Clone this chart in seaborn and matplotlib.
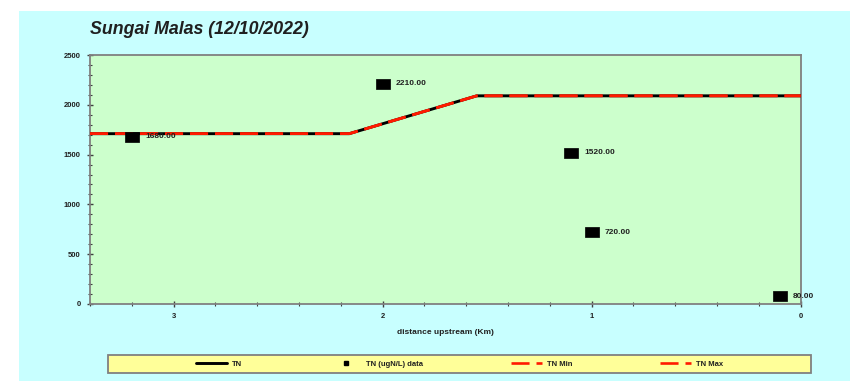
import matplotlib
matplotlib.use("Agg")
import matplotlib.pyplot as plt
from matplotlib.patches import Rectangle
from matplotlib.lines import Line2D
from matplotlib.path import Path
from matplotlib.ticker import MultipleLocator
import pandas as pd
import seaborn as sns

# Measured TN samples along the river
sample_distance_km = [3.2, 2.0, 1.1, 1.0, 0.1]
tn_values = [1680, 2210, 1520, 720, 80]

# Modelled TN profile with min / max envelopes
profile_distance_km = [3.4, 2.16, 1.55, 0.0]
tn_profile = [1710, 1710, 2090, 2090]
tn_min = [1710, 1710, 2090, 2090]
tn_max = [1710, 1710, 2090, 2090]

y_ticks = [0, 500, 1000, 1500, 2000, 2500]
x_ticks = [3, 2, 1, 0]

title = "Sungai Malas (12/10/2022)"
x_label = "distance upstream (Km)"
legend_labels = ["TN", "TN (ugN/L) data", "TN Min", "TN Max"]

sns.set_style("white")
plt.rcParams["font.family"] = ["Liberation Sans", "DejaVu Sans"]
plt.rcParams["lines.scale_dashes"] = False

W, H = 850, 381
fig = plt.figure(figsize=(W / 100, H / 100), dpi=100, facecolor="white")

# page background panel
fig.patches.append(Rectangle((19 / W, 0), 1 - 19 / W, (H - 11) / H,
                             transform=fig.transFigure, facecolor="#C8FFFF",
                             edgecolor="none", zorder=-2))

ax = fig.add_axes([90 / W, (H - 304) / H, (800.7 - 90) / W, (304 - 55) / H])
ax.set_facecolor("#CCFFCC")

profile = pd.DataFrame({"d": profile_distance_km, "tn": tn_profile,
                        "lo": tn_min, "hi": tn_max})
samples = pd.DataFrame({"d": sample_distance_km, "tn": tn_values})

red = "#FF1A00"
sns.lineplot(data=profile, x="d", y="tn", sort=False, ax=ax, color="black",
             linewidth=2.1, zorder=3)
sns.lineplot(data=profile, x="d", y="lo", sort=False, ax=ax, color=red,
             linewidth=1.9, zorder=4)
ax.lines[-1].set_dashes((13, 5))
sns.lineplot(data=profile, x="d", y="hi", sort=False, ax=ax, color=red,
             linewidth=1.9, zorder=5)
ax.lines[-1].set_dashes((13, 5))

rect_marker = Path([(-1.45, -1), (1.45, -1), (1.45, 1), (-1.45, 1), (-1.45, -1)],
                   [Path.MOVETO, Path.LINETO, Path.LINETO, Path.LINETO, Path.CLOSEPOLY])
sns.scatterplot(data=samples, x="d", y="tn", ax=ax, marker=rect_marker, s=95,
                color="black", edgecolor="black", linewidth=0.5, zorder=6)

for d, v in zip(sample_distance_km, tn_values):
    ax.annotate(f"{v:.2f}", (d, v), xytext=(9.5, 0), textcoords="offset points",
                fontsize=6, fontweight="bold", color="#202020", va="center",
                ha="left", zorder=7, annotation_clip=False)

ax.set_xlim(3.4, 0)
ax.set_ylim(0, 2500)
ax.set_xticks(x_ticks)
ax.set_yticks(y_ticks)
ax.xaxis.set_minor_locator(MultipleLocator(0.2))
ax.yaxis.set_minor_locator(MultipleLocator(100))
ax.tick_params(axis="both", which="major", direction="inout", length=5, width=1,
               color="#404040", labelsize=5.5, labelcolor="#202020", pad=4)
ax.tick_params(axis="both", which="minor", direction="inout", length=2.5, width=0.8,
               color="#404040")
ax.tick_params(axis="x", which="both", bottom=True)
ax.tick_params(axis="y", which="both", left=True)
for lbl in ax.get_xticklabels() + ax.get_yticklabels():
    lbl.set_fontweight("bold")
ax.set_xlabel("")
ax.set_ylabel("")
for side, sp in ax.spines.items():
    sp.set_visible(True)
    sp.set_color("#808080")
    sp.set_linewidth(1.3)

fig.text(90 / W, (H - 30) / H, title, fontsize=12.8, fontweight="bold",
         fontstyle="italic", color="#202020", ha="left", va="center")
fig.text(445 / W, (H - 332) / H, x_label, fontsize=6, fontweight="bold",
         color="#202020", ha="center", va="center")

# legend strip
lx0, lx1, ly0, ly1 = 108, 811, 355, 373
fig.patches.append(Rectangle((lx0 / W, (H - ly1) / H), (lx1 - lx0) / W, (ly1 - ly0) / H,
                             transform=fig.transFigure, facecolor="#FFFF99",
                             edgecolor="#808080", linewidth=1.3, zorder=1))
handles = [
    Line2D([], [], color="black", linewidth=2.1),
    Line2D([], [], color="black", linestyle="none", marker="s", markersize=3.5),
    Line2D([], [], color=red, linewidth=1.9, dashes=(13, 5)),
    Line2D([], [], color=red, linewidth=1.9, dashes=(13, 5)),
]
leg = fig.legend(handles, legend_labels, loc="center",
                 bbox_to_anchor=((lx0 + lx1) / 2 / W, (H - (ly0 + ly1) / 2) / H),
                 ncol=4, frameon=False, handlelength=4.1, handletextpad=0.6,
                 columnspacing=11.5, prop={"size": 5.5, "weight": "bold"})
for t in leg.get_texts():
    t.set_color("#202020")

fig.savefig("out.png", dpi=100, facecolor="white")
